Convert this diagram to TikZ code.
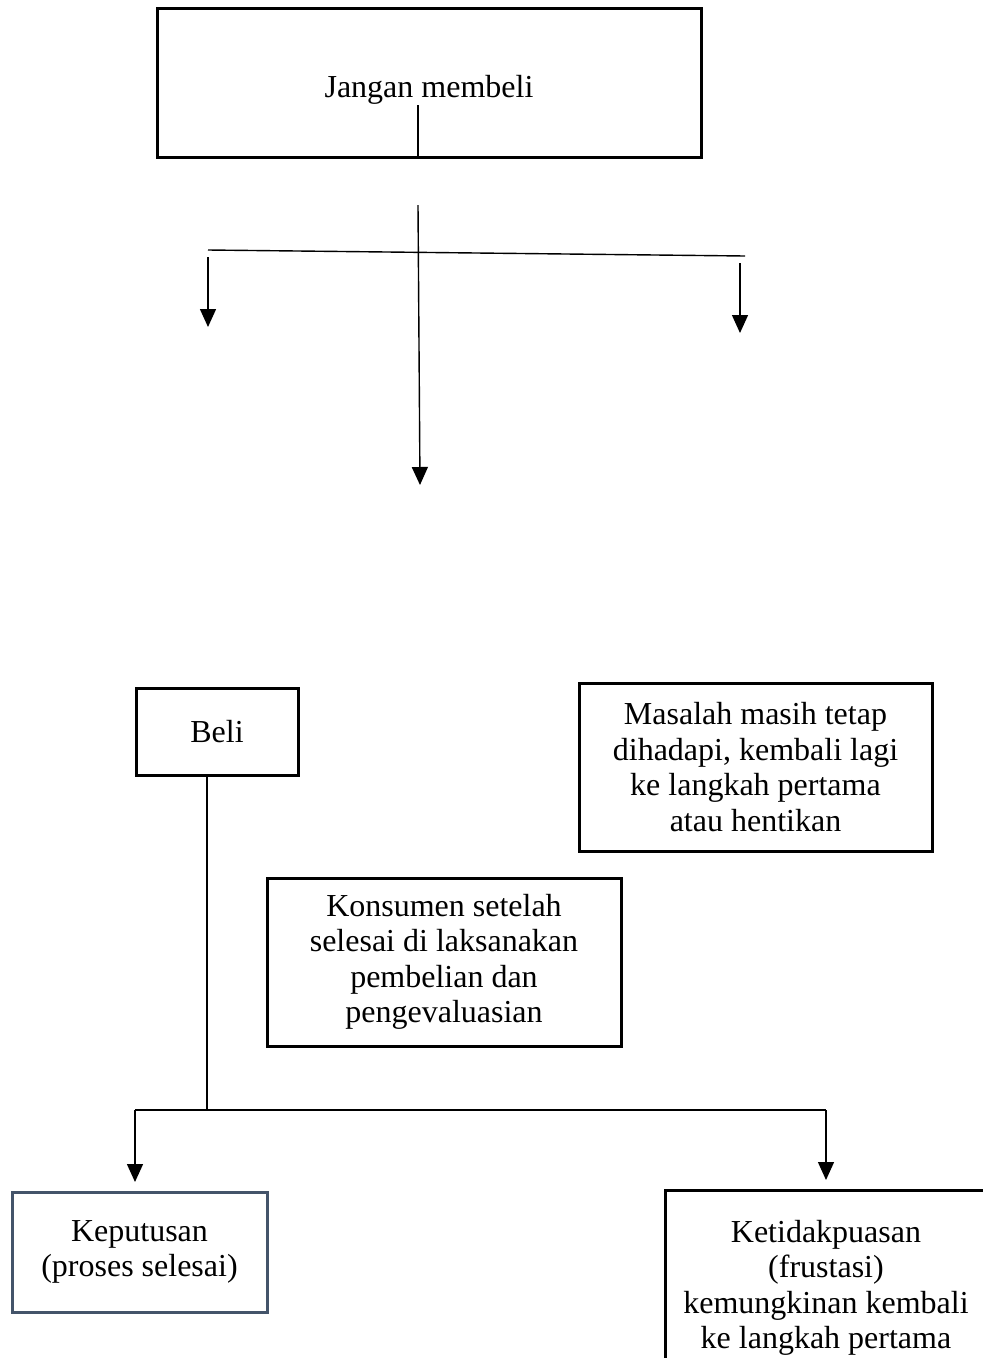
\documentclass[tikz,border=0pt]{standalone}
\usepackage{fontspec}
\setmainfont{Liberation Serif}
\usetikzlibrary{arrows.meta}
\definecolor{slateblue}{RGB}{68,84,106}
\begin{document}
\begin{tikzpicture}[x=1pt,y=-1pt,
  box/.style={draw=black,line width=3pt,align=center,inner sep=0pt,
    font=\fontsize{32}{35.5}\selectfont},
  conn/.style={line width=1.4pt},
  arr/.style={conn,-{Triangle[width=16pt,length=18pt]}}]
\clip (0,0) rectangle (983,1358);
\fill[white] (0,0) rectangle (983,1358);
% boxes
\node[box,minimum width=544,minimum height=149] (top) at (429,82.5) {\rule{0pt}{36pt}Jangan membeli};
\node[box,minimum width=162,minimum height=87] (beli) at (217,731.5) {Beli};
\node[box,minimum width=353,minimum height=168] (masalah) at (755.5,767)
  {Masalah masih tetap\\dihadapi, kembali lagi\\ke langkah pertama\\atau hentikan};
\node[box,minimum width=354,minimum height=168] (konsumen) at (444,962)
  {Konsumen setelah\\selesai di laksanakan\\pembelian dan\\pengevaluasian};
\node[box,draw=slateblue,minimum width=255,minimum height=120] (kep) at (139.5,1252)
  {Keputusan\\(proses selesai)};
\node[box,minimum width=322,minimum height=196] (ketid) at (826,1288)
  {Ketidakpuasan\\(frustasi)\\kemungkinan kembali\\ke langkah pertama};
% top connectors
\coordinate (tin) at (418,105);
\coordinate (vtop) at (418,205);
\coordinate (vend) at (420,485);
\coordinate (hl) at (208,250);
\coordinate (hr) at (745,256);
\coordinate (la) at (208,257);
\coordinate (lb) at (208,327);
\coordinate (ra) at (740,263);
\coordinate (rb) at (740,333);
\draw[conn] (tin) -- (tin |- top.south);
\draw[arr] (vtop) -- (vend);
\draw[conn] (hl) -- (hr);
\draw[arr] (la) -- (lb);
\draw[arr] (ra) -- (rb);
% bottom connectors
\coordinate (bs) at (207,775);
\coordinate (bj) at (207,1110);
\coordinate (bl) at (135,1110);
\coordinate (br) at (826,1110);
\coordinate (blt) at (135,1182);
\coordinate (brt) at (826,1180);
\draw[conn] (bs) -- (bj);
\draw[conn] (bl) -- (br);
\draw[arr] (bl) -- (blt);
\draw[arr] (br) -- (brt);
\end{tikzpicture}
\end{document}
